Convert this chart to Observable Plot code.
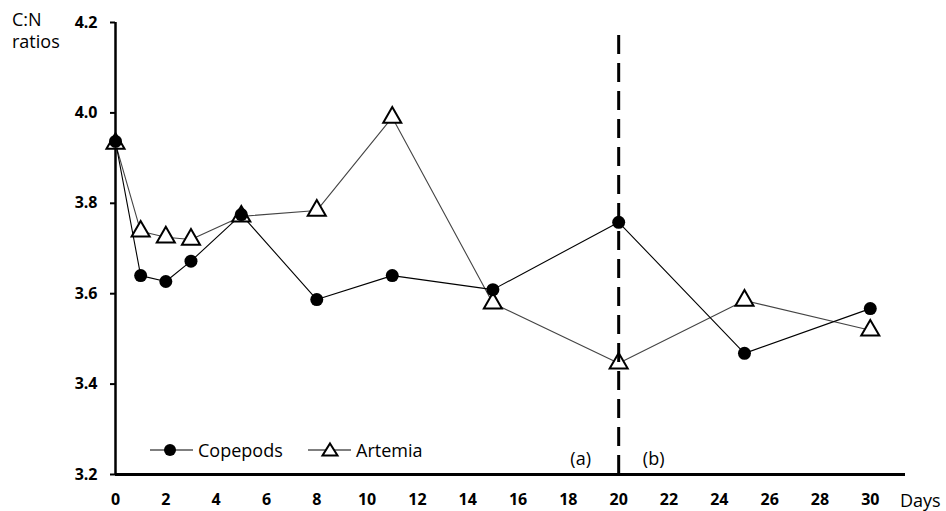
<!DOCTYPE html>
<html>
<head>
<meta charset="utf-8">
<script src="https://cdn.jsdelivr.net/npm/d3@7"></script>
<script src="https://cdn.jsdelivr.net/npm/@observablehq/plot@0.6"></script>
<style>
  html, body { margin: 0; padding: 0; background: #fff; }
  #wrap { position: relative; width: 946px; height: 511px; font-family: "Open Sans", sans-serif; color: #000; }
  #wrap svg.plot { position: absolute; left: 0; top: 0; }
  .lab { position: absolute; font-size: 18px; line-height: 22px; white-space: nowrap; }
  .leg { position: absolute; display: flex; align-items: center; font-size: 18px; line-height: 22px; white-space: nowrap; }
  .leg svg { display: block; margin-right: 5px; }
</style>
</head>
<body>
<div id="wrap"></div>
<script>
// ---- data ----
const days = [0, 1, 2, 3, 5, 8, 11, 15, 20, 25, 30];
const copepods = [3.937, 3.640, 3.627, 3.672, 3.775, 3.587, 3.640, 3.609, 3.758, 3.468, 3.567];
const artemia = [3.932, 3.738, 3.725, 3.720, 3.771, 3.784, 3.990, 3.579, 3.446, 3.585, 3.519];
const seriesNames = ["Copepods", "Artemia"];
const xTicks = [0, 2, 4, 6, 8, 10, 12, 14, 16, 18, 20, 22, 24, 26, 28, 30];
const yTicks = [3.2, 3.4, 3.6, 3.8, 4.0, 4.2];
const phaseBoundary = 20;
const phaseLabels = ["(a)", "(b)"];
const yLabel = ["C:N", "ratios"];
const xLabel = "Days";

const copData = days.map((d, i) => ({day: d, value: copepods[i]}));
const artData = days.map((d, i) => ({day: d, value: artemia[i]}));

const chart = Plot.plot({
  width: 946,
  height: 511,
  marginLeft: 115,
  marginRight: 41,
  marginTop: 22,
  marginBottom: 37,
  style: {fontFamily: "Open Sans, sans-serif", background: "transparent", color: "#000"},
  x: {domain: [0, 31.4]},
  y: {domain: [3.2, 4.2]},
  marks: [
    Plot.axisY({ticks: yTicks, tickSize: 5, tickPadding: 13, strokeWidth: 2, tickFormat: d => d.toFixed(1), fontSize: 16, fontWeight: "bold", label: null}),
    Plot.axisX({ticks: xTicks, tickSize: 0, tickPadding: 19, tickFormat: d => String(d), fontSize: 16, fontWeight: "bold", label: null}),
    Plot.ruleX([0], {stroke: "#000", strokeWidth: 2.5}),
    Plot.ruleY([3.2], {stroke: "#000", strokeWidth: 3}),
    Plot.line(artData, {x: "day", y: "value", stroke: "#444", strokeWidth: 1.1}),
    Plot.line(copData, {x: "day", y: "value", stroke: "#000", strokeWidth: 1.1}),
    Plot.dot(artData, {x: "day", y: "value", symbol: "triangle", r: 6.7, fill: "#fff", stroke: "#000", strokeWidth: 2}),
    Plot.dot(copData, {x: "day", y: "value", r: 6.5, fill: "#000", stroke: "none"}),
    Plot.ruleX([phaseBoundary], {y1: 3.2, y2: 4.187, stroke: "#000", strokeWidth: 3, strokeDasharray: "19,9"}),
    Plot.text([phaseLabels[0]], {x: [phaseBoundary], y: [3.2], text: d => d, dx: -38, dy: -15, fontSize: 18}),
    Plot.text([phaseLabels[1]], {x: [phaseBoundary], y: [3.2], text: d => d, dx: 35, dy: -15, fontSize: 18})
  ]
});
chart.classList.add("plot");
const wrap = document.getElementById("wrap");
wrap.appendChild(chart);

// axis titles
const yl = document.createElement("div");
yl.className = "lab";
yl.style.left = "12px"; yl.style.top = "8px";
yl.innerHTML = yLabel.join("<br>");
wrap.appendChild(yl);

const xl = document.createElement("div");
xl.className = "lab";
xl.style.left = "900px"; xl.style.top = "489px";
xl.textContent = xLabel;
wrap.appendChild(xl);

// legend
function legendItem(name, left, symbol) {
  const d = document.createElement("div");
  d.className = "leg";
  d.style.left = left + "px"; d.style.top = "439px";
  const glyph = symbol === "circle"
    ? '<circle cx="20" cy="11" r="6" fill="#000"/>'
    : '<path d="M22,4.5 L29.5,16.5 L14.5,16.5 Z" fill="#fff" stroke="#000" stroke-width="2"/>';
  d.innerHTML = '<svg width="43" height="22"><line x1="0" y1="11" x2="43" y2="11" stroke="#000" stroke-width="1.1"/>' + glyph + '</svg><span>' + name + '</span>';
  wrap.appendChild(d);
}
legendItem(seriesNames[0], 150, "circle");
legendItem(seriesNames[1], 308, "triangle");
</script>
</body>
</html>
